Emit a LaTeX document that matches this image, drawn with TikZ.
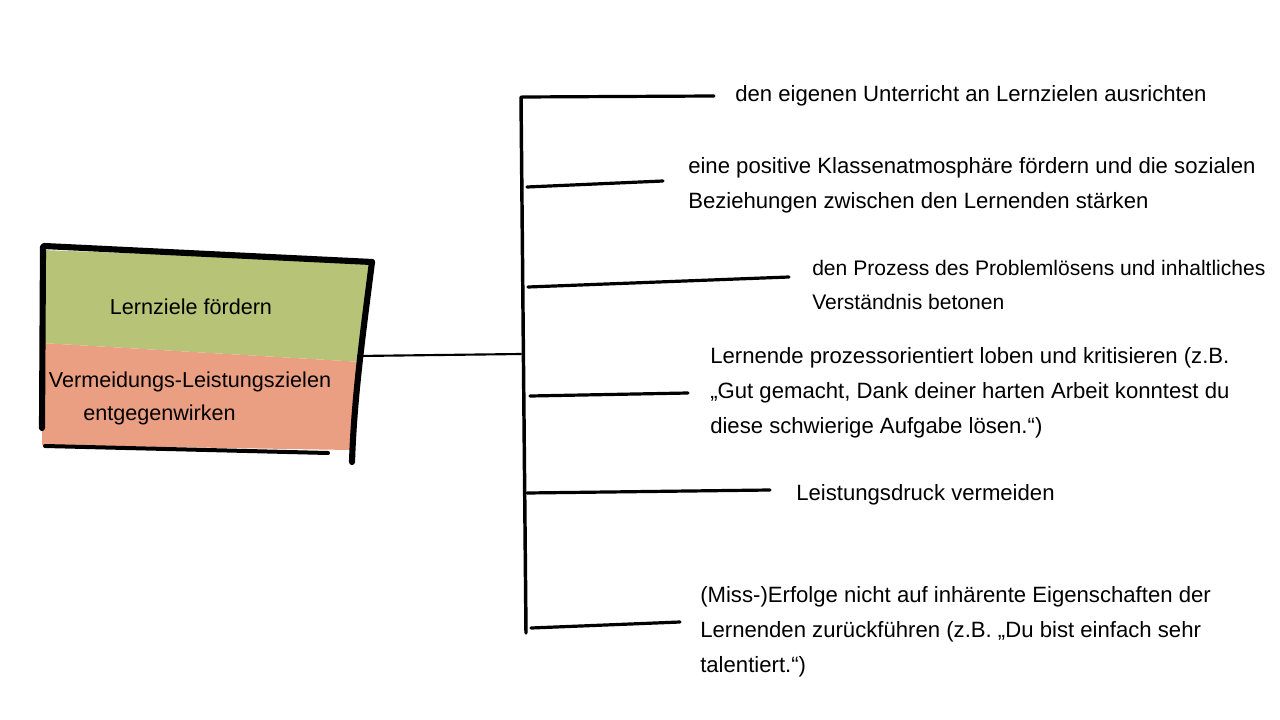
\documentclass[tikz,border=0pt]{standalone}
\usepackage{fontspec}
\setmainfont{Liberation Sans}
\begin{document}
\begin{tikzpicture}[x=0.75pt,y=-0.75pt,
  thick line/.style={line width=4.6pt,line cap=round,line join=round},
  spine line/.style={line width=2.6pt,line cap=round},
  branch line/.style={line width=2.4pt,line cap=round},
  link line/.style={line width=1.6pt,line cap=round},
  label/.style={anchor=west,align=left,inner sep=0pt,font=\fontsize{16.6}{26.2}\selectfont},
  boxtext/.style={inner sep=0pt,font=\fontsize{16.2}{26}\selectfont}]
\definecolor{wgreen}{HTML}{B7C376}
\definecolor{worange}{HTML}{EB9F82}
\useasboundingbox (0,0) rectangle (1280,720);
% watercolour fills
\fill[wgreen] (42,250) -- (370,262) -- (362,362) -- (42,343) -- cycle;
\fill[worange] (42,343) -- (362,362) -- (350,450) -- (42,445) -- cycle;
% box borders
\draw[thick line] (44,246) -- (372,262);
\draw[thick line] (43,247) -- (42,428);
\draw[thick line] (372,262) .. controls (362,340) and (354,400) .. (352,462);
\draw[line width=3pt,line cap=round] (45,446) -- (328,453);
% box texts
\node[boxtext] (lz) at (191,307) {Lernziele fördern};
\node[boxtext] (vl1) at (190,382) {Vermeidungs-Leistungszielen};
\node[boxtext,anchor=west] (vl2) at (83,415) {entgegenwirken};
% spine and link
\coordinate (boxr) at (358,356);
\coordinate (hub) at (521,354);
\coordinate (top) at (521,97);
\coordinate (bot) at (526,633);
\draw[link line] (boxr) -- (hub);
\draw[spine line] (top) -- (bot);
% branch ends
\coordinate (s1) at (522,97);  \coordinate (e1) at (714,96);
\coordinate (s2) at (527,187); \coordinate (e2) at (663,181);
\coordinate (s3) at (528,287); \coordinate (e3) at (789,277);
\coordinate (s4) at (530,396); \coordinate (e4) at (688,393);
\coordinate (s5) at (527,493); \coordinate (e5) at (770,490);
\coordinate (s6) at (531,628); \coordinate (e6) at (680,622);
\draw[branch line] (s1) -- (e1);
\draw[branch line] (s2) -- (e2);
\draw[branch line] (s3) -- (e3);
\draw[branch line] (s4) -- (e4);
\draw[branch line] (s5) -- (e5);
\draw[branch line] (s6) -- (e6);
% labels
\node[label] (t1) at (735,96) {den eigenen Unterricht an Lernzielen ausrichten};
\node[label] (t2) at (688,185) {eine positive Klassenatmosphäre fördern und die sozialen\\Beziehungen zwischen den Lernenden stärken};
\node[label,font=\fontsize{15.8}{26.2}\selectfont] (t3) at (812,285) {den Prozess des Problemlösens und inhaltliches\\Verständnis betonen};
\node[label] (t4) at (710,393) {Lernende prozessorientiert loben und kritisieren (z.B.\\„Gut gemacht, Dank deiner harten Arbeit konntest du\\diese schwierige Aufgabe lösen.“)};
\node[label] (t5) at (796,495) {Leistungsdruck vermeiden};
\node[label] (t6) at (700,632) {(Miss-)Erfolge nicht auf inhärente Eigenschaften der\\Lernenden zurückführen (z.B. „Du bist einfach sehr\\talentiert.“)};
\end{tikzpicture}
\end{document}
